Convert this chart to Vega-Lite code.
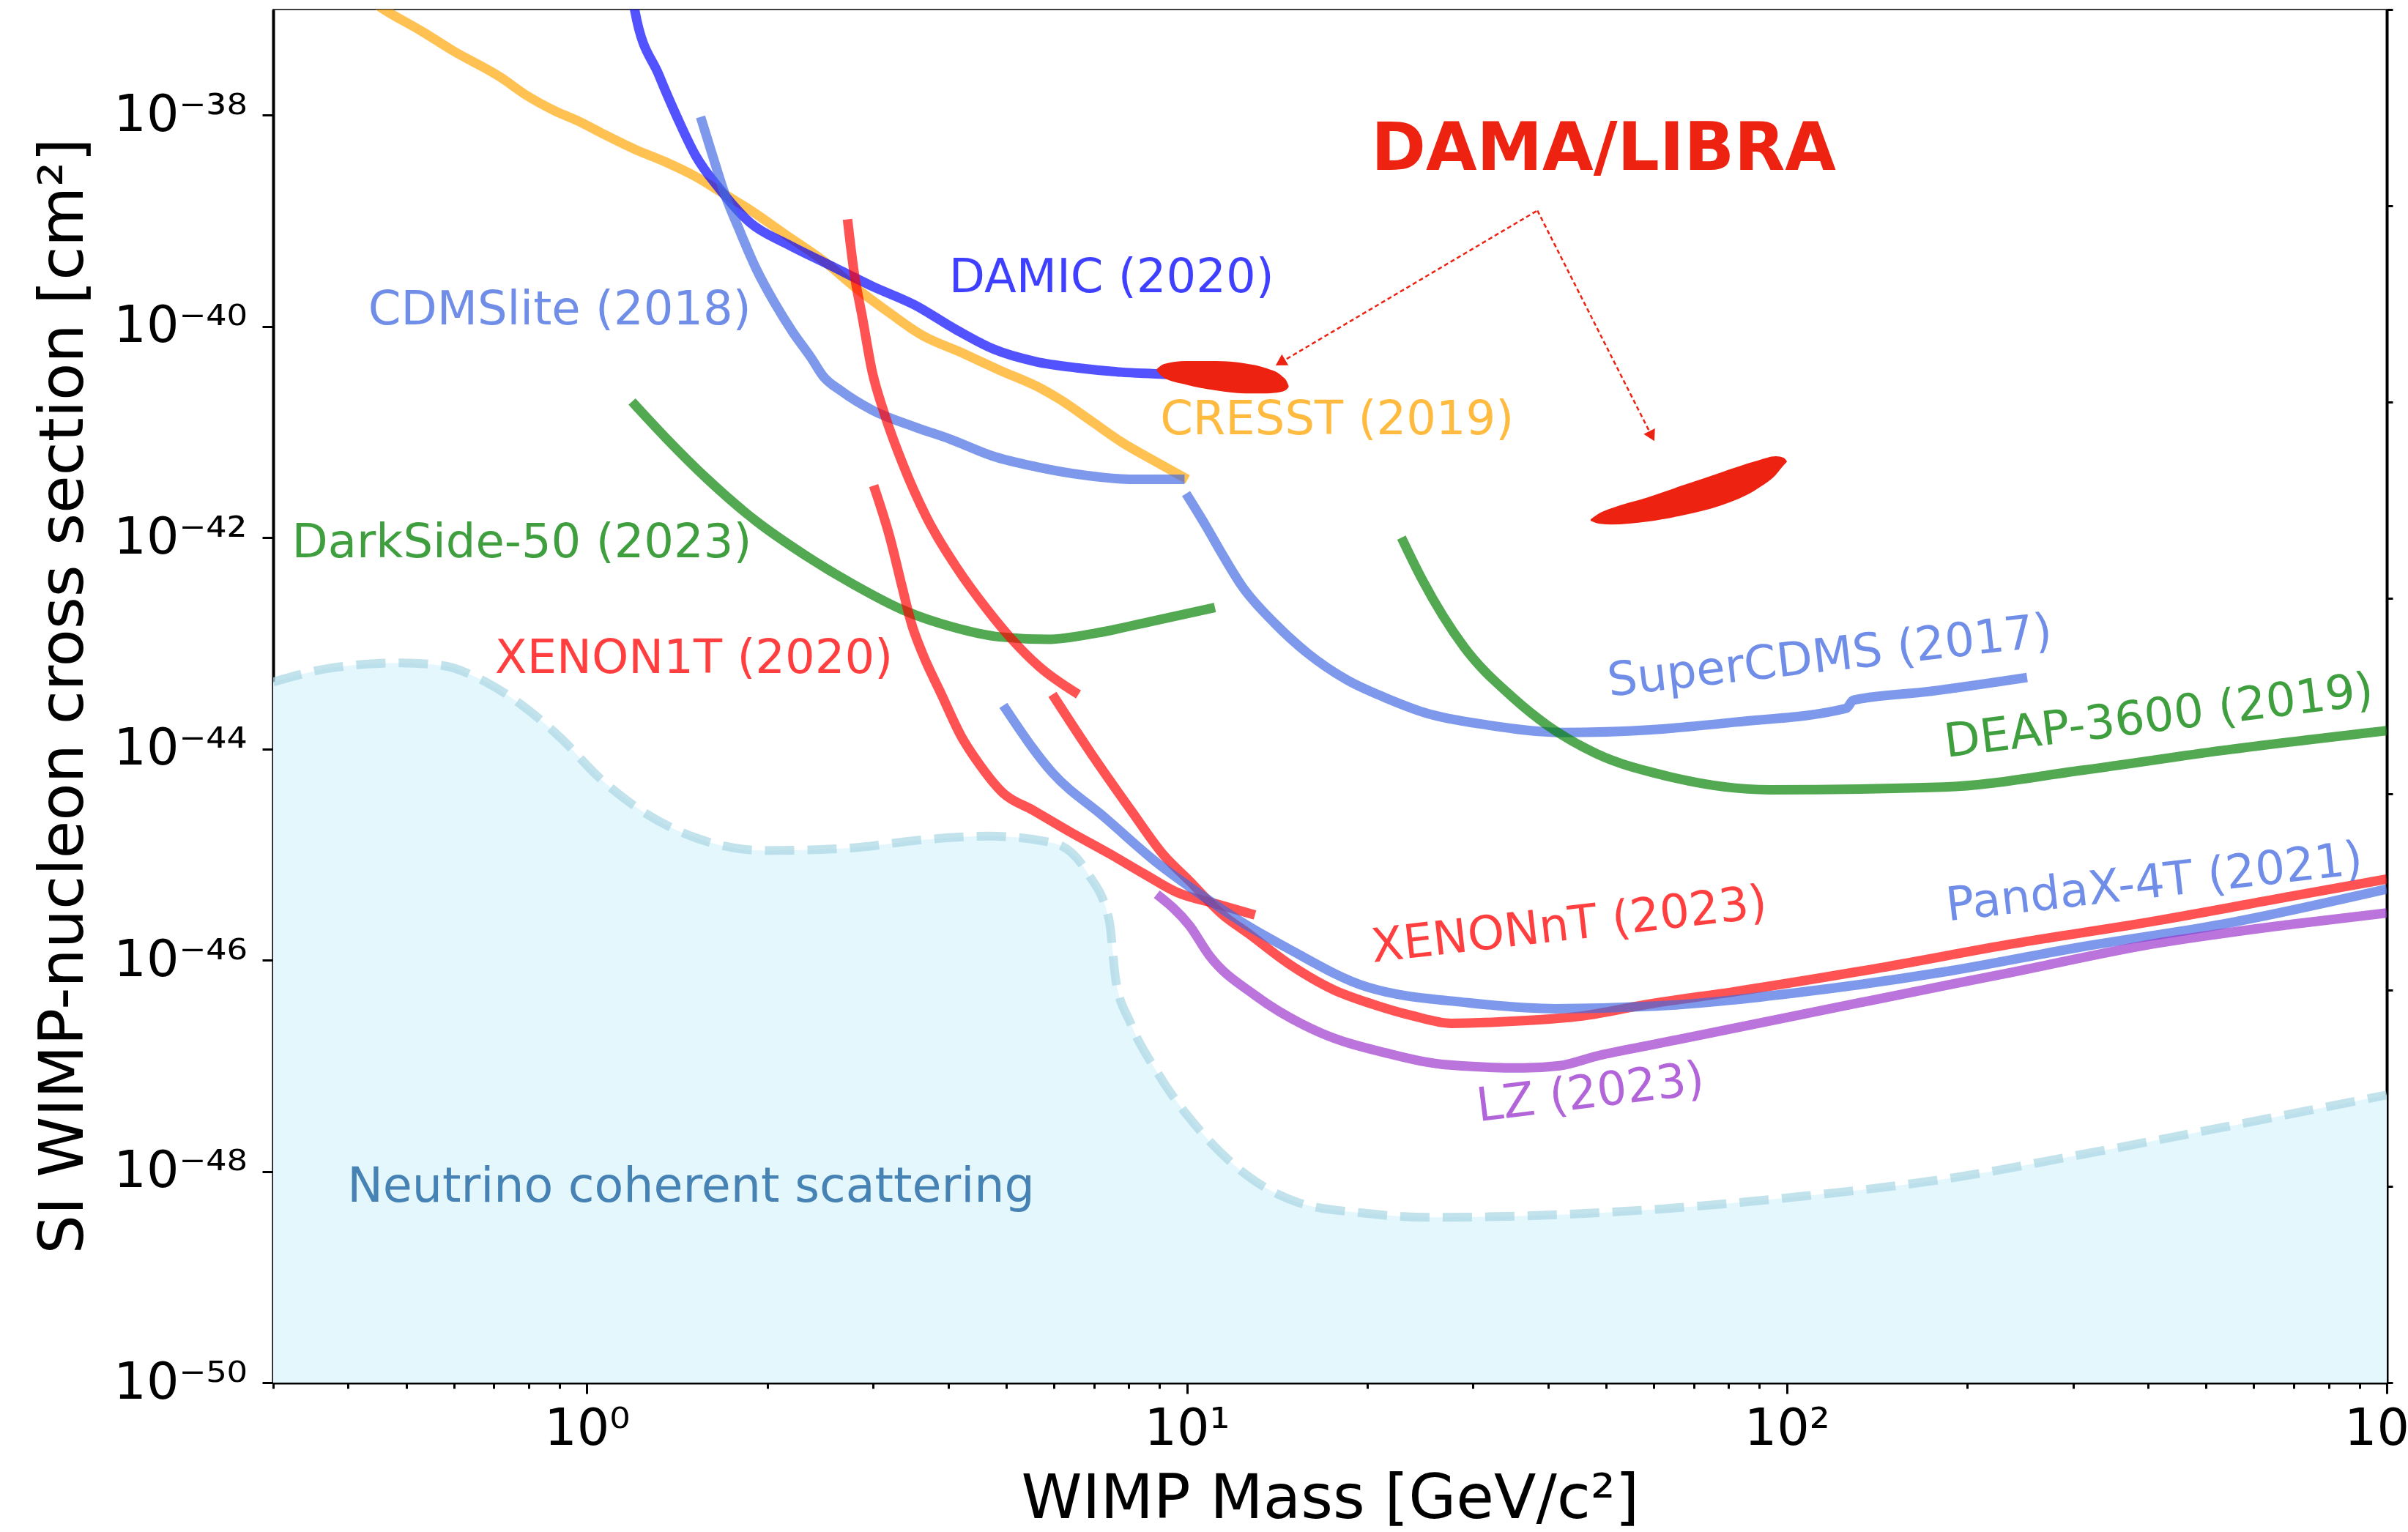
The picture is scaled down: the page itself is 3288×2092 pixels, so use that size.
{
  "$schema": "https://vega.github.io/schema/vega-lite/v6.json",
  "width": 2886,
  "height": 1875,
  "autosize": {"type": "none"},
  "padding": {"left": 373, "top": 13, "right": 29, "bottom": 204},
  "background": "white",
  "config": {
    "view": {"stroke": "black", "strokeWidth": 1.5},
    "font": "DejaVu Sans",
    "axis": {"domainColor": "black", "domainWidth": 4, "tickColor": "black", "tickWidth": 3, "labelColor": "black", "titleColor": "black", "grid": false, "labelFont": "DejaVu Sans", "titleFont": "DejaVu Sans", "titleFontWeight": "normal", "zindex": 1, "labelLimit": 1000, "titleLimit": 3000},
    "text": {"font": "DejaVu Sans"}
  },
  "datasets": {
    "curves": [
      {"exp": "CRESST", "curve": "CRESST", "x": 0.437, "y": 1.2e-37},
      {"exp": "CRESST", "curve": "CRESST", "x": 0.462, "y": 9.78e-38},
      {"exp": "CRESST", "curve": "CRESST", "x": 0.5317, "y": 6.18e-38},
      {"exp": "CRESST", "curve": "CRESST", "x": 0.5974, "y": 4.09e-38},
      {"exp": "CRESST", "curve": "CRESST", "x": 0.7201, "y": 2.26e-38},
      {"exp": "CRESST", "curve": "CRESST", "x": 0.7903, "y": 1.56e-38},
      {"exp": "CRESST", "curve": "CRESST", "x": 0.8881, "y": 1.085e-38},
      {"exp": "CRESST", "curve": "CRESST", "x": 0.9747, "y": 8.62e-39},
      {"exp": "CRESST", "curve": "CRESST", "x": 1.07, "y": 6.55e-39},
      {"exp": "CRESST", "curve": "CRESST", "x": 1.202, "y": 4.75e-39},
      {"exp": "CRESST", "curve": "CRESST", "x": 1.351, "y": 3.61e-39},
      {"exp": "CRESST", "curve": "CRESST", "x": 1.518, "y": 2.62e-39},
      {"exp": "CRESST", "curve": "CRESST", "x": 1.666, "y": 1.9e-39},
      {"exp": "CRESST", "curve": "CRESST", "x": 1.873, "y": 1.26e-39},
      {"exp": "CRESST", "curve": "CRESST", "x": 2.154, "y": 7.25e-40},
      {"exp": "CRESST", "curve": "CRESST", "x": 2.477, "y": 4.19e-40},
      {"exp": "CRESST", "curve": "CRESST", "x": 2.783, "y": 2.41e-40},
      {"exp": "CRESST", "curve": "CRESST", "x": 3.201, "y": 1.33e-40},
      {"exp": "CRESST", "curve": "CRESST", "x": 3.596, "y": 8.42e-41},
      {"exp": "CRESST", "curve": "CRESST", "x": 4.234, "y": 5.57e-41},
      {"exp": "CRESST", "curve": "CRESST", "x": 4.868, "y": 3.86e-41},
      {"exp": "CRESST", "curve": "CRESST", "x": 5.731, "y": 2.56e-41},
      {"exp": "CRESST", "curve": "CRESST", "x": 6.147, "y": 2.03e-41},
      {"exp": "CRESST", "curve": "CRESST", "x": 6.909, "y": 1.285e-41},
      {"exp": "CRESST", "curve": "CRESST", "x": 7.761, "y": 8.12e-42},
      {"exp": "CRESST", "curve": "CRESST", "x": 8.928, "y": 5.14e-42},
      {"exp": "CRESST", "curve": "CRESST", "x": 10.03, "y": 3.56e-42},

      {"exp": "DAMIC", "curve": "DAMIC", "x": 1.197, "y": 1.2e-37},
      {"exp": "DAMIC", "curve": "DAMIC", "x": 1.202, "y": 9.78e-38},
      {"exp": "DAMIC", "curve": "DAMIC", "x": 1.32, "y": 2.36e-38},
      {"exp": "DAMIC", "curve": "DAMIC", "x": 1.415, "y": 9.46e-39},
      {"exp": "DAMIC", "curve": "DAMIC", "x": 1.518, "y": 4.14e-39},
      {"exp": "DAMIC", "curve": "DAMIC", "x": 1.666, "y": 1.99e-39},
      {"exp": "DAMIC", "curve": "DAMIC", "x": 1.873, "y": 9.55e-40},
      {"exp": "DAMIC", "curve": "DAMIC", "x": 2.154, "y": 6.04e-40},
      {"exp": "DAMIC", "curve": "DAMIC", "x": 2.535, "y": 3.82e-40},
      {"exp": "DAMIC", "curve": "DAMIC", "x": 2.985, "y": 2.41e-40},
      {"exp": "DAMIC", "curve": "DAMIC", "x": 3.515, "y": 1.6e-40},
      {"exp": "DAMIC", "curve": "DAMIC", "x": 4.136, "y": 9.23e-41},
      {"exp": "DAMIC", "curve": "DAMIC", "x": 4.757, "y": 6.11e-41},
      {"exp": "DAMIC", "curve": "DAMIC", "x": 5.601, "y": 4.64e-41},
      {"exp": "DAMIC", "curve": "DAMIC", "x": 6.594, "y": 4.04e-41},
      {"exp": "DAMIC", "curve": "DAMIC", "x": 7.761, "y": 3.69e-41},
      {"exp": "DAMIC", "curve": "DAMIC", "x": 9.138, "y": 3.52e-41},
      {"exp": "DAMIC", "curve": "DAMIC", "x": 9.6, "y": 3.45e-41},

      {"exp": "CDMSlite", "curve": "CDMSlite", "x": 1.547, "y": 9.62e-39},
      {"exp": "CDMSlite", "curve": "CDMSlite", "x": 1.628, "y": 3.78e-39},
      {"exp": "CDMSlite", "curve": "CDMSlite", "x": 1.706, "y": 1.66e-39},
      {"exp": "CDMSlite", "curve": "CDMSlite", "x": 1.787, "y": 8.72e-40},
      {"exp": "CDMSlite", "curve": "CDMSlite", "x": 1.916, "y": 3.49e-40},
      {"exp": "CDMSlite", "curve": "CDMSlite", "x": 2.055, "y": 1.67e-40},
      {"exp": "CDMSlite", "curve": "CDMSlite", "x": 2.204, "y": 8.82e-41},
      {"exp": "CDMSlite", "curve": "CDMSlite", "x": 2.363, "y": 5.08e-41},
      {"exp": "CDMSlite", "curve": "CDMSlite", "x": 2.477, "y": 3.37e-41},
      {"exp": "CDMSlite", "curve": "CDMSlite", "x": 2.656, "y": 2.44e-41},
      {"exp": "CDMSlite", "curve": "CDMSlite", "x": 2.985, "y": 1.62e-41},
      {"exp": "CDMSlite", "curve": "CDMSlite", "x": 3.515, "y": 1.12e-41},
      {"exp": "CDMSlite", "curve": "CDMSlite", "x": 4.043, "y": 8.51e-42},
      {"exp": "CDMSlite", "curve": "CDMSlite", "x": 4.757, "y": 5.9e-42},
      {"exp": "CDMSlite", "curve": "CDMSlite", "x": 5.601, "y": 4.69e-42},
      {"exp": "CDMSlite", "curve": "CDMSlite", "x": 6.75, "y": 3.9e-42},
      {"exp": "CDMSlite", "curve": "CDMSlite", "x": 8.134, "y": 3.56e-42},
      {"exp": "CDMSlite", "curve": "CDMSlite", "x": 9.913, "y": 3.56e-42},

      {"exp": "SuperCDMS", "curve": "SuperCDMS", "x": 9.97, "y": 2.61e-42},
      {"exp": "SuperCDMS", "curve": "SuperCDMS", "x": 10.76, "y": 1.29e-42},
      {"exp": "SuperCDMS", "curve": "SuperCDMS", "x": 11.48, "y": 6.82e-43},
      {"exp": "SuperCDMS", "curve": "SuperCDMS", "x": 12.35, "y": 3.49e-43},
      {"exp": "SuperCDMS", "curve": "SuperCDMS", "x": 14.02, "y": 1.54e-43},
      {"exp": "SuperCDMS", "curve": "SuperCDMS", "x": 15.91, "y": 8.02e-44},
      {"exp": "SuperCDMS", "curve": "SuperCDMS", "x": 18.46, "y": 4.52e-44},
      {"exp": "SuperCDMS", "curve": "SuperCDMS", "x": 21.48, "y": 3.03e-44},
      {"exp": "SuperCDMS", "curve": "SuperCDMS", "x": 24.94, "y": 2.2e-44},
      {"exp": "SuperCDMS", "curve": "SuperCDMS", "x": 31.76, "y": 1.68e-44},
      {"exp": "SuperCDMS", "curve": "SuperCDMS", "x": 42.31, "y": 1.43e-44},
      {"exp": "SuperCDMS", "curve": "SuperCDMS", "x": 59.44, "y": 1.52e-44},
      {"exp": "SuperCDMS", "curve": "SuperCDMS", "x": 81.89, "y": 1.79e-44},
      {"exp": "SuperCDMS", "curve": "SuperCDMS", "x": 125.6, "y": 2.42e-44},
      {"exp": "SuperCDMS", "curve": "SuperCDMS", "x": 129.1, "y": 2.89e-44},
      {"exp": "SuperCDMS", "curve": "SuperCDMS", "x": 173.0, "y": 3.5e-44},
      {"exp": "SuperCDMS", "curve": "SuperCDMS", "x": 251.5, "y": 4.74e-44},

      {"exp": "DarkSide", "curve": "DarkSide", "x": 1.189, "y": 1.94e-41},
      {"exp": "DarkSide", "curve": "DarkSide", "x": 1.351, "y": 8.91e-42},
      {"exp": "DarkSide", "curve": "DarkSide", "x": 1.59, "y": 3.56e-42},
      {"exp": "DarkSide", "curve": "DarkSide", "x": 1.916, "y": 1.43e-42},
      {"exp": "DarkSide", "curve": "DarkSide", "x": 2.309, "y": 6.84e-43},
      {"exp": "DarkSide", "curve": "DarkSide", "x": 2.783, "y": 3.6e-43},
      {"exp": "DarkSide", "curve": "DarkSide", "x": 3.354, "y": 2.08e-43},
      {"exp": "DarkSide", "curve": "DarkSide", "x": 4.043, "y": 1.44e-43},
      {"exp": "DarkSide", "curve": "DarkSide", "x": 4.868, "y": 1.15e-43},
      {"exp": "DarkSide", "curve": "DarkSide", "x": 5.867, "y": 1.09e-43},
      {"exp": "DarkSide", "curve": "DarkSide", "x": 7.07, "y": 1.25e-43},
      {"exp": "DarkSide", "curve": "DarkSide", "x": 8.72, "y": 1.61e-43},
      {"exp": "DarkSide", "curve": "DarkSide", "x": 11.14, "y": 2.18e-43},

      {"exp": "DEAP", "curve": "DEAP", "x": 22.79, "y": 1.0e-42},
      {"exp": "DEAP", "curve": "DEAP", "x": 24.68, "y": 4.0e-43},
      {"exp": "DEAP", "curve": "DEAP", "x": 28.97, "y": 9.23e-44},
      {"exp": "DEAP", "curve": "DEAP", "x": 34.91, "y": 3.08e-44},
      {"exp": "DEAP", "curve": "DEAP", "x": 39.9, "y": 1.67e-44},
      {"exp": "DEAP", "curve": "DEAP", "x": 48.08, "y": 9.06e-45},
      {"exp": "DEAP", "curve": "DEAP", "x": 62.8, "y": 5.56e-45},
      {"exp": "DEAP", "curve": "DEAP", "x": 93.7, "y": 4.1e-45},
      {"exp": "DEAP", "curve": "DEAP", "x": 182.5, "y": 4.35e-45},
      {"exp": "DEAP", "curve": "DEAP", "x": 311.2, "y": 6.28e-45},
      {"exp": "DEAP", "curve": "DEAP", "x": 530.8, "y": 9.64e-45},
      {"exp": "DEAP", "curve": "DEAP", "x": 1000, "y": 1.49e-44},

      {"exp": "XENON1T", "curve": "XENON1T-a", "x": 2.719, "y": 1.03e-39},
      {"exp": "XENON1T", "curve": "XENON1T-a", "x": 2.783, "y": 3.51e-40},
      {"exp": "XENON1T", "curve": "XENON1T-a", "x": 2.882, "y": 1.17e-40},
      {"exp": "XENON1T", "curve": "XENON1T-a", "x": 2.985, "y": 3.87e-41},
      {"exp": "XENON1T", "curve": "XENON1T-a", "x": 3.127, "y": 1.54e-41},
      {"exp": "XENON1T", "curve": "XENON1T-a", "x": 3.354, "y": 5.14e-42},
      {"exp": "XENON1T", "curve": "XENON1T-a", "x": 3.683, "y": 1.56e-42},
      {"exp": "XENON1T", "curve": "XENON1T-a", "x": 4.136, "y": 5.19e-43},
      {"exp": "XENON1T", "curve": "XENON1T-a", "x": 4.649, "y": 2.08e-43},
      {"exp": "XENON1T", "curve": "XENON1T-a", "x": 5.08, "y": 1.13e-43},
      {"exp": "XENON1T", "curve": "XENON1T-a", "x": 5.676, "y": 6.0e-44},
      {"exp": "XENON1T", "curve": "XENON1T-a", "x": 6.597, "y": 3.28e-44},

      {"exp": "XENON1T", "curve": "XENON1T-b", "x": 3.006, "y": 3.11e-42},
      {"exp": "XENON1T", "curve": "XENON1T-b", "x": 3.202, "y": 9.87e-43},
      {"exp": "XENON1T", "curve": "XENON1T-b", "x": 3.35, "y": 3.49e-43},
      {"exp": "XENON1T", "curve": "XENON1T-b", "x": 3.475, "y": 1.54e-43},
      {"exp": "XENON1T", "curve": "XENON1T-b", "x": 3.625, "y": 8.02e-44},
      {"exp": "XENON1T", "curve": "XENON1T-b", "x": 3.899, "y": 3.28e-44},
      {"exp": "XENON1T", "curve": "XENON1T-b", "x": 4.2, "y": 1.34e-44},
      {"exp": "XENON1T", "curve": "XENON1T-b", "x": 4.525, "y": 6.97e-45},
      {"exp": "XENON1T", "curve": "XENON1T-b", "x": 4.945, "y": 3.8e-45},
      {"exp": "XENON1T", "curve": "XENON1T-b", "x": 5.54, "y": 2.63e-45},
      {"exp": "XENON1T", "curve": "XENON1T-b", "x": 6.432, "y": 1.6e-45},
      {"exp": "XENON1T", "curve": "XENON1T-b", "x": 7.485, "y": 9.94e-46},
      {"exp": "XENON1T", "curve": "XENON1T-b", "x": 8.484, "y": 6.56e-46},
      {"exp": "XENON1T", "curve": "XENON1T-b", "x": 9.614, "y": 4.4e-46},
      {"exp": "XENON1T", "curve": "XENON1T-b", "x": 11.19, "y": 3.41e-46},
      {"exp": "XENON1T", "curve": "XENON1T-b", "x": 12.99, "y": 2.68e-46},

      {"exp": "XENONnT", "curve": "XENONnT", "x": 5.97, "y": 3.28e-44},
      {"exp": "XENONnT", "curve": "XENONnT", "x": 6.94, "y": 8.91e-45},
      {"exp": "XENONnT", "curve": "XENONnT", "x": 8.067, "y": 2.63e-45},
      {"exp": "XENONnT", "curve": "XENONnT", "x": 9.14, "y": 9.94e-46},
      {"exp": "XENONnT", "curve": "XENONnT", "x": 10.11, "y": 5.59e-46},
      {"exp": "XENONnT", "curve": "XENONnT", "x": 11.48, "y": 2.68e-46},
      {"exp": "XENONnT", "curve": "XENONnT", "x": 12.66, "y": 1.79e-46},
      {"exp": "XENONnT", "curve": "XENONnT", "x": 14.74, "y": 9.35e-47},
      {"exp": "XENONnT", "curve": "XENONnT", "x": 17.54, "y": 5.26e-47},
      {"exp": "XENONnT", "curve": "XENONnT", "x": 20.42, "y": 3.82e-47},
      {"exp": "XENONnT", "curve": "XENONnT", "x": 23.74, "y": 2.98e-47},
      {"exp": "XENONnT", "curve": "XENONnT", "x": 27.6, "y": 2.52e-47},
      {"exp": "XENONnT", "curve": "XENONnT", "x": 35.44, "y": 2.65e-47},
      {"exp": "XENONnT", "curve": "XENONnT", "x": 45.63, "y": 2.96e-47},
      {"exp": "XENONnT", "curve": "XENONnT", "x": 58.61, "y": 3.82e-47},
      {"exp": "XENONnT", "curve": "XENONnT", "x": 81.9, "y": 5.03e-47},
      {"exp": "XENONnT", "curve": "XENONnT", "x": 139.8, "y": 8.26e-47},
      {"exp": "XENONnT", "curve": "XENONnT", "x": 238.5, "y": 1.43e-46},
      {"exp": "XENONnT", "curve": "XENONnT", "x": 406.3, "y": 2.32e-46},
      {"exp": "XENONnT", "curve": "XENONnT", "x": 693, "y": 4.02e-46},
      {"exp": "XENONnT", "curve": "XENONnT", "x": 1000, "y": 5.86e-46},

      {"exp": "PandaX", "curve": "PandaX", "x": 4.945, "y": 2.58e-44},
      {"exp": "PandaX", "curve": "PandaX", "x": 5.97, "y": 5.94e-45},
      {"exp": "PandaX", "curve": "PandaX", "x": 7.299, "y": 2.24e-45},
      {"exp": "PandaX", "curve": "PandaX", "x": 8.91, "y": 8.39e-46},
      {"exp": "PandaX", "curve": "PandaX", "x": 10.64, "y": 4.03e-46},
      {"exp": "PandaX", "curve": "PandaX", "x": 12.35, "y": 2.29e-46},
      {"exp": "PandaX", "curve": "PandaX", "x": 14.74, "y": 1.29e-46},
      {"exp": "PandaX", "curve": "PandaX", "x": 19.91, "y": 5.6e-47},
      {"exp": "PandaX", "curve": "PandaX", "x": 29.43, "y": 3.95e-47},
      {"exp": "PandaX", "curve": "PandaX", "x": 41.15, "y": 3.47e-47},
      {"exp": "PandaX", "curve": "PandaX", "x": 60.62, "y": 3.67e-47},
      {"exp": "PandaX", "curve": "PandaX", "x": 106.9, "y": 5.02e-47},
      {"exp": "PandaX", "curve": "PandaX", "x": 182.5, "y": 7.72e-47},
      {"exp": "PandaX", "curve": "PandaX", "x": 311.3, "y": 1.34e-46},
      {"exp": "PandaX", "curve": "PandaX", "x": 530.8, "y": 2.18e-46},
      {"exp": "PandaX", "curve": "PandaX", "x": 1000, "y": 4.7e-46},

      {"exp": "LZ", "curve": "LZ", "x": 8.91, "y": 4.2e-46},
      {"exp": "LZ", "curve": "LZ", "x": 10.11, "y": 2.11e-46},
      {"exp": "LZ", "curve": "LZ", "x": 10.91, "y": 1.1e-46},
      {"exp": "LZ", "curve": "LZ", "x": 12.99, "y": 4.65e-47},
      {"exp": "LZ", "curve": "LZ", "x": 16.71, "y": 2.05e-47},
      {"exp": "LZ", "curve": "LZ", "x": 21.48, "y": 1.32e-47},
      {"exp": "LZ", "curve": "LZ", "x": 26.68, "y": 1.03e-47},
      {"exp": "LZ", "curve": "LZ", "x": 36.35, "y": 9.53e-48},
      {"exp": "LZ", "curve": "LZ", "x": 41.83, "y": 1.0e-47},
      {"exp": "LZ", "curve": "LZ", "x": 48.08, "y": 1.23e-47},
      {"exp": "LZ", "curve": "LZ", "x": 58.61, "y": 1.55e-47},
      {"exp": "LZ", "curve": "LZ", "x": 81.89, "y": 2.27e-47},
      {"exp": "LZ", "curve": "LZ", "x": 139.8, "y": 4.21e-47},
      {"exp": "LZ", "curve": "LZ", "x": 238.5, "y": 7.72e-47},
      {"exp": "LZ", "curve": "LZ", "x": 406.7, "y": 1.42e-46},
      {"exp": "LZ", "curve": "LZ", "x": 693, "y": 2.18e-46},
      {"exp": "LZ", "curve": "LZ", "x": 1000, "y": 2.8e-46}
    ],
    "nu": [
      {"x": 0.3, "y": 4.3e-44},
      {"x": 0.375, "y": 5.83e-44},
      {"x": 0.4905, "y": 6.52e-44},
      {"x": 0.576, "y": 6.14e-44},
      {"x": 0.6597, "y": 4.66e-44},
      {"x": 0.774, "y": 2.67e-44},
      {"x": 0.911, "y": 1.22e-44},
      {"x": 1.042, "y": 5.52e-45},
      {"x": 1.224, "y": 2.67e-45},
      {"x": 1.518, "y": 1.44e-45},
      {"x": 1.986, "y": 1.09e-45},
      {"x": 2.744, "y": 1.15e-45},
      {"x": 3.591, "y": 1.37e-45},
      {"x": 4.694, "y": 1.49e-45},
      {"x": 5.978, "y": 1.29e-45},
      {"x": 6.843, "y": 6.58e-46},
      {"x": 7.42, "y": 2.4e-46},
      {"x": 7.62, "y": 6.27e-47},
      {"x": 8.05, "y": 2.56e-47},
      {"x": 8.96, "y": 8.39e-48},
      {"x": 10.52, "y": 2.43e-48},
      {"x": 12.7, "y": 8.87e-49},
      {"x": 15.33, "y": 5.07e-49},
      {"x": 19.58, "y": 4.04e-49},
      {"x": 25.94, "y": 3.67e-49},
      {"x": 36.86, "y": 3.79e-49},
      {"x": 62.8, "y": 4.44e-49},
      {"x": 106.9, "y": 5.83e-49},
      {"x": 182.5, "y": 8.42e-49},
      {"x": 311.3, "y": 1.45e-48},
      {"x": 530.8, "y": 2.6e-48},
      {"x": 1000, "y": 5.28e-48}
    ],
    "dama": [
      {"blob": "low", "x": 8.91, "y": 3.94e-41, "y2": 3.81e-41},
      {"blob": "low", "x": 9.165, "y": 4.4e-41, "y2": 3.25e-41},
      {"blob": "low", "x": 9.972, "y": 4.69e-41, "y2": 2.81e-41},
      {"blob": "low", "x": 11.16, "y": 4.69e-41, "y2": 2.48e-41},
      {"blob": "low", "x": 12.49, "y": 4.47e-41, "y2": 2.32e-41},
      {"blob": "low", "x": 13.59, "y": 4.0e-41, "y2": 2.32e-41},
      {"blob": "low", "x": 14.38, "y": 3.41e-41, "y2": 2.4e-41},
      {"blob": "low", "x": 14.7, "y": 2.95e-41, "y2": 2.56e-41},
      {"blob": "low", "x": 14.78, "y": 2.73e-41, "y2": 2.68e-41},
      {"blob": "high", "x": 47.1, "y": 1.491e-42, "y2": 1.444e-42},
      {"blob": "high", "x": 48.84, "y": 1.72e-42, "y2": 1.354e-42},
      {"blob": "high", "x": 50.93, "y": 1.894e-42, "y2": 1.333e-42},
      {"blob": "high", "x": 58.61, "y": 2.406e-42, "y2": 1.421e-42},
      {"blob": "high", "x": 67.47, "y": 3.158e-42, "y2": 1.64e-42},
      {"blob": "high", "x": 77.65, "y": 4.14e-42, "y2": 2.018e-42},
      {"blob": "high", "x": 89.39, "y": 5.35e-42, "y2": 2.914e-42},
      {"blob": "high", "x": 95.9, "y": 5.886e-42, "y2": 3.948e-42},
      {"blob": "high", "x": 98.88, "y": 5.7e-42, "y2": 4.86e-42},
      {"blob": "high", "x": 100, "y": 5.3e-42, "y2": 5.22e-42}
    ],
    "arrows": [
      {"arrow": "L", "end": false, "x": 38.4, "y": 1.25e-39},
      {"arrow": "L", "end": true, "x": 14.32, "y": 4.54e-41},
      {"arrow": "R", "end": false, "x": 38.4, "y": 1.25e-39},
      {"arrow": "R", "end": true, "x": 59.57, "y": 9.13e-42}
    ],
    "labels": [
      {"text": "DAMIC (2020)", "exp": "DAMIC", "x": 7.49, "y": 2.85e-40},
      {"text": "CDMSlite (2018)", "exp": "CDMSlite", "x": 0.901, "y": 1.41e-40},
      {"text": "CRESST (2019)", "exp": "CRESST", "x": 17.8, "y": 1.29e-41},
      {"text": "DarkSide-50 (2023)", "exp": "DarkSide", "x": 0.779, "y": 8.8e-43},
      {"text": "XENON1T (2020)", "exp": "XENON1T", "x": 1.508, "y": 7.06e-44}
    ]
  },
  "layer": [
    {
      "encoding": {
        "x": {
          "field": "x", "type": "quantitative",
          "scale": {"type": "log", "domain": [0.3, 1000], "nice": false},
          "axis": {
            "values": [0.3, 0.4, 0.5, 0.6, 0.7, 0.8, 0.9, 1, 2, 3, 4, 5, 6, 7, 8, 9, 10, 20, 30, 40, 50, 60, 70, 80, 90, 100, 200, 300, 400, 500, 600, 700, 800, 900, 1000],
            "labelExpr": "datum.value == 1 ? '10⁰' : datum.value == 10 ? '10¹' : datum.value == 100 ? '10²' : datum.value == 1000 ? '10³' : ''",
            "tickSize": {"condition": {"test": "datum.value == 1 || datum.value == 10 || datum.value == 100 || datum.value == 1000", "value": 15}, "value": 8},
            "labelFontSize": 70,
            "labelBaseline": "alphabetic",
            "labelPadding": 69,
            "labelOverlap": false,
            "labelFlush": false,
            "labelBound": false,
            "title": "WIMP Mass [GeV/c²]",
            "titleFontSize": 84,
            "titleBaseline": "alphabetic",
            "titleY": 184
          }
        },
        "y": {
          "field": "y", "type": "quantitative",
          "scale": {"type": "log", "domain": [1e-50, 1e-37], "nice": false},
          "axis": {
            "values": [1e-50, 1e-48, 1e-46, 1e-44, 1e-42, 1e-40, 1e-38],
            "labelExpr": "'10⁻' + substring('⁰¹²³⁴⁵⁶⁷⁸⁹', floor(round(-log(datum.value)/LN10)/10), floor(round(-log(datum.value)/LN10)/10) + 1) + substring('⁰¹²³⁴⁵⁶⁷⁸⁹', round(-log(datum.value)/LN10) % 10, round(-log(datum.value)/LN10) % 10 + 1)",
            "tickSize": 15,
            "labelFontSize": 70,
            "labelPadding": 21,
            "labelOverlap": false,
            "labelFlush": false,
            "labelBound": false,
            "title": "SI WIMP-nucleon cross section [cm²]",
            "titleFontSize": 84,
            "titleAngle": 270,
            "titleBaseline": "alphabetic",
            "titleAlign": "center",
            "titleX": -261,
            "titleY": 937
          }
        }
      },
      "layer": [
        {
          "data": {"name": "nu"},
          "mark": {"type": "area", "color": "#e4f7fd", "interpolate": "monotone", "clip": true},
          "encoding": {"y2": {"datum": 1e-50}}
        },
        {
          "data": {"name": "nu"},
          "mark": {"type": "line", "color": "#add8e6", "opacity": 0.75, "strokeWidth": 12, "strokeDash": [40, 18], "interpolate": "monotone", "clip": true}
        },
        {
          "data": {"name": "curves"},
          "mark": {"type": "line", "strokeWidth": 13, "opacity": 0.68, "interpolate": "monotone", "clip": true, "strokeCap": "butt"},
          "encoding": {
            "color": {"field": "exp", "type": "nominal", "legend": null,
              "scale": {"domain": ["DAMIC", "CDMSlite", "SuperCDMS", "PandaX", "CRESST", "DarkSide", "DEAP", "XENON1T", "XENONnT", "LZ"],
                        "range": ["#0000ff", "#4169e1", "#4169e1", "#4169e1", "#ffa500", "#008000", "#008000", "#ff0000", "#ff0000", "#9932cc"]}},
            "detail": {"field": "curve", "type": "nominal"}
          }
        },
        {
          "data": {"name": "dama"},
          "mark": {"type": "area", "color": "#ee2211", "interpolate": "monotone", "opacity": 1},
          "encoding": {"y2": {"field": "y2"}, "detail": {"field": "blob", "type": "nominal"}}
        },
        {
          "data": {"name": "arrows"},
          "mark": {"type": "line", "color": "#ee2211", "strokeWidth": 2.5, "strokeDash": [6, 4]},
          "encoding": {"detail": {"field": "arrow", "type": "nominal"}}
        },
        {
          "data": {"name": "arrows"},
          "transform": [{"filter": "datum.end && datum.arrow == 'L'"}],
          "mark": {"type": "point", "shape": "triangle-up", "filled": true, "color": "#ee2211", "opacity": 1, "size": 300, "angle": 239}
        },
        {
          "data": {"name": "arrows"},
          "transform": [{"filter": "datum.end && datum.arrow == 'R'"}],
          "mark": {"type": "point", "shape": "triangle-up", "filled": true, "color": "#ee2211", "opacity": 1, "size": 300, "angle": 153}
        },
        {
          "data": {"values": [{"text": "DAMA/LIBRA", "x": 49.5, "y": 3.03e-39}]},
          "mark": {"type": "text", "color": "#ee2211", "fontSize": 90, "fontWeight": "bold", "align": "center", "baseline": "alphabetic"},
          "encoding": {"text": {"field": "text"}}
        },
        {
          "data": {"values": [{"text": "Neutrino coherent scattering", "x": 1.491, "y": 7.06e-49}]},
          "mark": {"type": "text", "color": "#4682b4", "fontSize": 65, "align": "center", "baseline": "middle"},
          "encoding": {"text": {"field": "text"}}
        },
        {
          "data": {"name": "labels"},
          "mark": {"type": "text", "fontSize": 64, "align": "center", "baseline": "middle", "opacity": 0.75},
          "encoding": {"text": {"field": "text"}, "color": {"field": "exp", "type": "nominal", "legend": null}}
        },
        {
          "data": {"values": [{"text": "SuperCDMS (2017)", "exp": "SuperCDMS", "x": 118, "y": 7.4e-44}]},
          "mark": {"type": "text", "fontSize": 64, "align": "center", "baseline": "middle", "opacity": 0.75, "angle": -6.5},
          "encoding": {"text": {"field": "text"}, "color": {"field": "exp", "type": "nominal", "legend": null}}
        },
        {
          "data": {"values": [{"text": "DEAP-3600 (2019)", "exp": "DEAP", "x": 417, "y": 2.0e-44}]},
          "mark": {"type": "text", "fontSize": 64, "align": "center", "baseline": "middle", "opacity": 0.75, "angle": -7},
          "encoding": {"text": {"field": "text"}, "color": {"field": "exp", "type": "nominal", "legend": null}}
        },
        {
          "data": {"values": [{"text": "PandaX-4T (2021)", "exp": "PandaX", "x": 410, "y": 5.33e-46}]},
          "mark": {"type": "text", "fontSize": 64, "align": "center", "baseline": "middle", "opacity": 0.75, "angle": -6.5},
          "encoding": {"text": {"field": "text"}, "color": {"field": "exp", "type": "nominal", "legend": null}}
        },
        {
          "data": {"values": [{"text": "XENONnT (2023)", "exp": "XENONnT", "x": 43.4, "y": 2.11e-46}]},
          "mark": {"type": "text", "fontSize": 64, "align": "center", "baseline": "middle", "opacity": 0.75, "angle": -6.5},
          "encoding": {"text": {"field": "text"}, "color": {"field": "exp", "type": "nominal", "legend": null}}
        },
        {
          "data": {"values": [{"text": "LZ (2023)", "exp": "LZ", "x": 47.1, "y": 5.45e-48}]},
          "mark": {"type": "text", "fontSize": 64, "align": "center", "baseline": "middle", "opacity": 0.75, "angle": -7},
          "encoding": {"text": {"field": "text"}, "color": {"field": "exp", "type": "nominal", "legend": null}}
        }
      ]
    },
    {
      "data": {"values": [{"k": 0}, {"k": 7}]},
      "mark": {"type": "point", "opacity": 0},
      "encoding": {
        "y": {"field": "k", "type": "quantitative",
          "scale": {"domain": [0, 7], "nice": false, "zero": false},
          "axis": {"orient": "right", "values": [0, 1, 2, 3, 4, 5, 6, 7], "labels": false, "tickSize": 8, "title": null}}
      }
    }
  ],
  "resolve": {"scale": {"y": "independent"}, "axis": {"y": "independent"}}
}
